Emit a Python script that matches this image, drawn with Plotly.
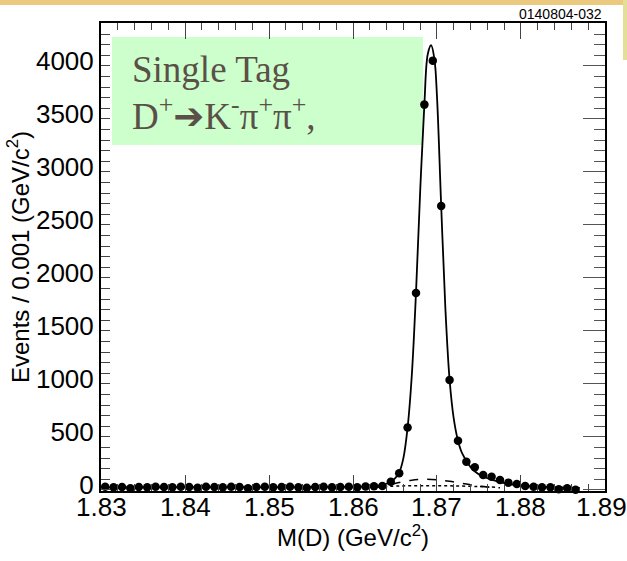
import plotly.graph_objects as go

# ---- data ----
bin_centers = [round(1.8305 + 0.001 * i, 4) for i in range(57)]
events = [30, 25, 28, 15, 28, 25, 30, 28, 25, 30, 28, 20, 30, 28, 25, 30, 28, 15,
          28, 30, 25, 28, 30, 25, 20, 28, 30, 25, 28, 30, 25, 32, 35,
          38, 78, 158, 588, 1858, 3635, 4050, 2679, 1038, 465, 267, 214, 142,
          125, 94, 69, 57, 38, 31, 25, 25, 7, 16, 2]

fit_x = [1.8300, 1.8400, 1.8500, 1.8580, 1.8610, 1.8630, 1.8640, 1.8650, 1.8655,
         1.8660, 1.8665, 1.8670, 1.8675, 1.8680, 1.8685, 1.8689, 1.8693, 1.8697,
         1.8700, 1.8705, 1.8710, 1.8715, 1.8720, 1.8725, 1.8730, 1.8740, 1.8750,
         1.8760, 1.8770, 1.8780, 1.8800, 1.8830, 1.8870]
fit_y = [25, 26, 27, 28, 32, 40, 58, 110, 165, 300, 588, 1080, 1860, 2820, 3640,
         4110, 4195, 4060, 3710, 2680, 1710, 1040, 670, 465, 345, 215, 145, 110,
         85, 65, 42, 28, 20]

dash_x = [1.8625, 1.8640, 1.8655, 1.8670, 1.8685, 1.8700, 1.8715, 1.8730, 1.8745, 1.8760, 1.8775]
dash_y = [20, 40, 70, 92, 100, 96, 82, 62, 42, 28, 20]

dot_x = [1.8630, 1.8660, 1.8690, 1.8720, 1.8750, 1.8770]
dot_y = [30, 38, 40, 38, 32, 25]

x_ticks = [1.83, 1.84, 1.85, 1.86, 1.87, 1.88, 1.89]
x_labels = ["1.83", "1.84", "1.85", "1.86", "1.87", "1.88", "1.89"]
y_ticks = [0, 500, 1000, 1500, 2000, 2500, 3000, 3500, 4000]
x_range = [1.83, 1.890001]
y_range = [-10, 4405]

# plot-area geometry in pixels
W, H = 627, 561
L, R, T, B = 101, 605, 23, 491


def px(xp):
    return (xp - L) / (R - L)


def py(yp):
    return (B - yp) / (B - T)


fig = go.Figure()

fig.add_trace(go.Scatter(x=dot_x, y=dot_y, mode="lines", line=dict(color="black", width=1.5, dash="dot"),
                         line_shape="spline", hoverinfo="skip", showlegend=False))
fig.add_trace(go.Scatter(x=dash_x, y=dash_y, mode="lines", line=dict(color="black", width=1.5, dash="dash"),
                         line_shape="spline", hoverinfo="skip", showlegend=False))
fig.add_trace(go.Scatter(x=fit_x, y=fit_y, mode="lines", line=dict(color="black", width=1.8),
                         line_shape="spline", hoverinfo="skip", showlegend=False))
fig.add_trace(go.Scatter(x=bin_centers, y=events, mode="markers",
                         marker=dict(color="black", size=8.5), cliponaxis=False, showlegend=False))
# invisible trace for right-side axis
fig.add_trace(go.Scatter(x=[x_range[0]], y=[0], yaxis="y2", mode="markers",
                         marker=dict(opacity=0), hoverinfo="skip", showlegend=False))

axis_font = dict(family="Liberation Sans, Arial, sans-serif", size=26, color="black")
title_font = dict(family="Liberation Sans, Arial, sans-serif", size=24, color="black")

fig.update_layout(
    width=W, height=H,
    margin=dict(l=L, r=W - R, t=T, b=H - B, pad=0),
    paper_bgcolor="white", plot_bgcolor="white",
    showlegend=False,
    xaxis=dict(
        range=x_range, tickvals=x_ticks, showticklabels=False,
        showgrid=False, zeroline=False,
        showline=True, linecolor="black", linewidth=2, mirror="ticks",
        ticks="inside", ticklen=16, tickwidth=1, tickcolor="#444",
        minor=dict(ticks="inside", ticklen=7, dtick=0.002, tick0=1.83, tickcolor="#444", showgrid=False),
        title=dict(text="M(D) (GeV/c<sup>2</sup>)", font=title_font, standoff=37),
    ),
    yaxis=dict(
        range=y_range, tickvals=y_ticks, ticktext=[str(v) for v in y_ticks],
        showgrid=False, zeroline=False,
        showline=True, linecolor="black", linewidth=2, mirror=True,
        ticks="inside", ticklen=9, tickwidth=1, tickcolor="#444",
        minor=dict(ticks="inside", ticklen=9, dtick=100, tick0=0, tickcolor="#444", showgrid=False),
        tickfont=axis_font, ticklabelstandoff=0, ticklabelshift=-5,
        title=dict(text="Events / 0.001 (GeV/c<sup>2</sup>)", font=title_font, standoff=0),
    ),
    yaxis2=dict(
        range=y_range, overlaying="y", side="right", showgrid=False, zeroline=False,
        showline=False, tickvals=y_ticks, showticklabels=False,
        ticks="inside", ticklen=22, tickwidth=1, tickcolor="#555",
        minor=dict(ticks="inside", ticklen=11, dtick=100, tick0=0, tickcolor="#555", showgrid=False),
    ),
)

# x tick labels placed at the axis tick values (last one nudged to stay inside the page)
for xv, lab in zip(x_ticks, x_labels):
    fig.add_annotation(xref="x", yref="paper", x=xv, xshift=(-3 if lab == x_labels[-1] else 0),
                       y=py(507), text=lab, showarrow=False, xanchor="center", yanchor="middle",
                       font=axis_font)

# decorative frame bits
fig.add_shape(type="rect", xref="paper", yref="paper", x0=-0.3, x1=px(627), y0=py(5), y1=py(0),
              fillcolor="#ebc97f", line=dict(width=0), layer="below")
fig.add_shape(type="rect", xref="paper", yref="paper", x0=px(623), x1=px(627), y0=py(60), y1=py(0),
              fillcolor="#e4df96", line=dict(width=0), layer="below")

# green label box
fig.add_shape(type="rect", xref="paper", yref="paper", x0=px(112), x1=px(423), y0=py(145), y1=py(37),
              fillcolor="#ccffcc", line=dict(width=0), layer="below")

box_font = dict(family="Liberation Serif, Times New Roman, serif", size=37, color="#5a5048")
fig.add_annotation(xref="paper", yref="paper", x=px(130), y=py(69), text="Single Tag",
                   showarrow=False, xanchor="left", yanchor="middle", font=box_font)
fig.add_annotation(xref="paper", yref="paper", x=px(130), y=py(114),
                   text='D<sup>+</sup><span style="font-family:DejaVu Sans">➔</span>K<sup>-</sup>π<sup>+</sup>π<sup>+</sup>,',
                   showarrow=False, xanchor="left", yanchor="middle", font=box_font)

fig.add_annotation(xref="paper", yref="paper", x=px(604), y=py(14), text="0140804-032",
                   showarrow=False, xanchor="right", yanchor="middle",
                   font=dict(family="Liberation Sans, Arial, sans-serif", size=14, color="black"))

fig.write_html("out.html")
